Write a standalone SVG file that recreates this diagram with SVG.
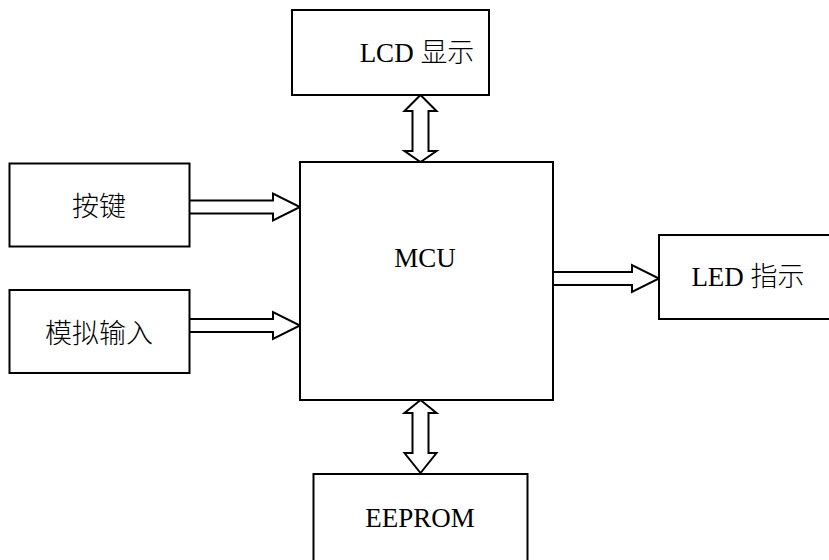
<svg xmlns="http://www.w3.org/2000/svg" width="829" height="560" viewBox="0 0 829 560">
<style>
.box{fill:#fff;stroke:#000;stroke-width:2}
.arr{fill:#fff;stroke:#000;stroke-width:2;stroke-linejoin:miter}
.t{font-family:'Liberation Serif','Times New Roman',serif;font-size:27px;fill:#000;text-anchor:middle}
.c{font-family:'Noto Sans CJK SC',sans-serif;font-weight:300}
</style>
<rect width="829" height="560" fill="#fff"/>
<g id="connectors">
<polygon class="arr" points="189,200.5 273,200.5 273,193.5 300,207 273,220.5 273,213.5 189,213.5"/>
<polygon class="arr" points="189,319 273,319 273,312 300,325.5 273,339 273,332 189,332"/>
<polygon class="arr" points="553,272 632,272 632,265 659,278.5 632,292 632,285 553,285"/>
<polygon class="arr" points="420.5,95 436.5,111 428.5,111 428.5,151 436.5,151 420.5,162 404.5,151 412.5,151 412.5,111 404.5,111"/>
<polygon class="arr" points="420.5,400 436.5,413 428.5,413 428.5,453 436.5,453 420.5,473 404.5,453 412.5,453 412.5,413 404.5,413"/>
</g>
<g id="lcd"><rect class="box" x="292" y="10" width="197" height="85"/><text class="t" x="417" y="62">LCD <tspan class="c">显示</tspan></text></g>
<g id="key"><rect class="box" x="9.5" y="163.5" width="180" height="83"/><text class="t c" x="99" y="216">按键</text></g>
<g id="analog"><rect class="box" x="9.5" y="290" width="180" height="83"/><text class="t c" x="99" y="343">模拟输入</text></g>
<g id="mcu"><rect class="box" x="300" y="162" width="253" height="238"/><text class="t" x="425" y="267">MCU</text></g>
<g id="led"><rect class="box" x="659" y="235" width="172" height="84"/><text class="t" x="748" y="285.5">LED <tspan class="c">指示</tspan></text></g>
<g id="eeprom"><rect class="box" x="313.5" y="474" width="214" height="100"/><text class="t" x="420" y="526.5">EEPROM</text></g>
</svg>
